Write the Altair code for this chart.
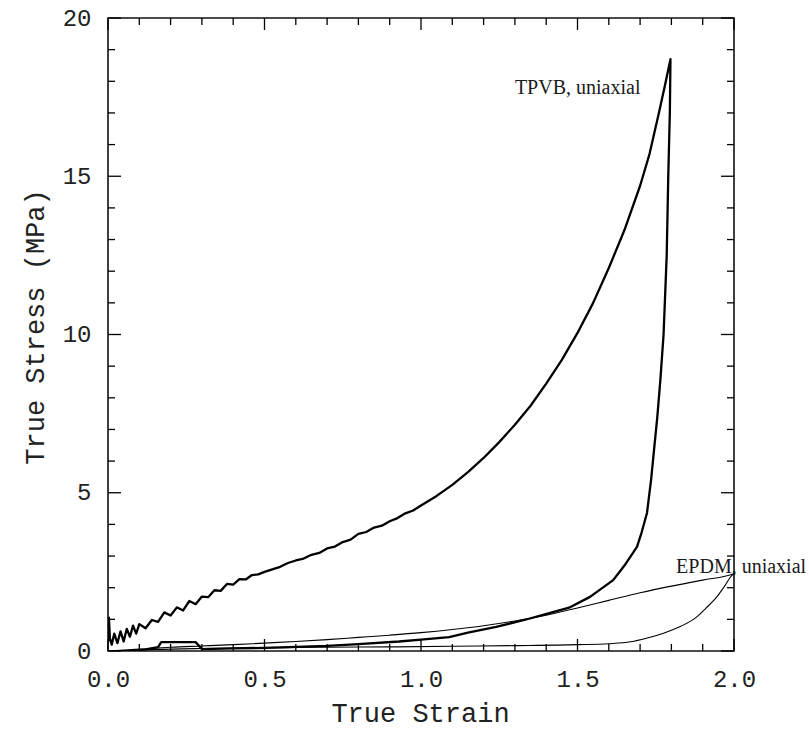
import altair as alt
import pandas as pd

# ---- data ----
tpvb_load_strain = [0.000, 0.003, 0.006, 0.012, 0.020, 0.030, 0.040, 0.050, 0.060, 0.070,
                    0.080, 0.090, 0.100, 0.120, 0.140, 0.160, 0.180, 0.200, 0.220, 0.240,
                    0.260, 0.280, 0.300, 0.320, 0.340, 0.360, 0.380, 0.400, 0.420, 0.440,
                    0.460, 0.480, 0.500, 0.525, 0.550, 0.575, 0.600, 0.625, 0.650, 0.675,
                    0.700, 0.725, 0.750, 0.775, 0.800, 0.825, 0.850, 0.875, 0.900, 0.925,
                    0.950, 0.975, 1.000, 1.050, 1.100, 1.150, 1.200, 1.250, 1.300, 1.350,
                    1.400, 1.450, 1.500, 1.550, 1.600, 1.650, 1.700, 1.730, 1.760, 1.780,
                    1.797]
tpvb_load_stress = [0.30, 1.05, 0.40, 0.20, 0.55, 0.25, 0.62, 0.30, 0.70, 0.45,
                    0.80, 0.55, 0.85, 0.72, 0.98, 0.92, 1.22, 1.12, 1.38, 1.28,
                    1.58, 1.48, 1.72, 1.70, 1.92, 1.90, 2.12, 2.10, 2.27, 2.26,
                    2.40, 2.42, 2.50, 2.58, 2.66, 2.78, 2.86, 2.92, 3.04, 3.10,
                    3.24, 3.30, 3.44, 3.52, 3.70, 3.76, 3.90, 3.96, 4.10, 4.20,
                    4.35, 4.44, 4.60, 4.90, 5.25, 5.65, 6.10, 6.60, 7.15, 7.75,
                    8.45, 9.20, 10.05, 11.00, 12.10, 13.30, 14.70, 15.70, 17.00, 17.90,
                    18.70]

tpvb_unload_strain = [1.797, 1.795, 1.790, 1.785, 1.775, 1.765, 1.755, 1.745, 1.735, 1.722,
                      1.705, 1.690, 1.650, 1.614, 1.540, 1.476, 1.410, 1.330, 1.240, 1.150,
                      1.090, 1.000, 0.930, 0.800, 0.700, 0.600, 0.500, 0.400, 0.300, 0.280,
                      0.170, 0.160, 0.120, 0.080]
tpvb_unload_stress = [18.70, 17.00, 15.00, 12.50, 10.00, 8.60, 7.40, 6.40, 5.40, 4.36,
                      3.75, 3.29, 2.70, 2.24, 1.71, 1.38, 1.20, 0.98, 0.76, 0.58,
                      0.44, 0.36, 0.30, 0.22, 0.16, 0.13, 0.10, 0.08, 0.06, 0.28,
                      0.28, 0.12, 0.05, 0.00]

epdm_load_strain = [0.00, 0.05, 0.10, 0.20, 0.30, 0.40, 0.50, 0.60, 0.70, 0.80, 0.90,
                    1.00, 1.10, 1.20, 1.30, 1.40, 1.50, 1.60, 1.70, 1.80, 1.90, 2.00]
epdm_load_stress = [0.00, 0.03, 0.06, 0.12, 0.16, 0.20, 0.25, 0.30, 0.36, 0.43, 0.50,
                    0.58, 0.68, 0.80, 0.95, 1.13, 1.36, 1.60, 1.84, 2.05, 2.24, 2.45]

epdm_unload_strain = [2.000, 1.970, 1.945, 1.910, 1.880, 1.830, 1.775, 1.720, 1.670, 1.600,
                      1.500, 1.300, 1.100, 0.900, 0.700, 0.500, 0.300, 0.150, 0.050, 0.000]
epdm_unload_stress = [2.45, 2.05, 1.71, 1.35, 1.07, 0.78, 0.56, 0.40, 0.29, 0.23,
                      0.20, 0.17, 0.15, 0.13, 0.12, 0.10, 0.08, 0.05, 0.01, 0.00]

labels_text = ["TPVB, uniaxial", "EPDM, uniaxial"]
labels_strain = [1.30, 1.815]
labels_stress = [17.6, 2.46]

x_major = [0.0, 0.5, 1.0, 1.5, 2.0]
x_minor = [0.1, 0.2, 0.3, 0.4, 0.6, 0.7, 0.8, 0.9, 1.1, 1.2, 1.3, 1.4, 1.6, 1.7, 1.8, 1.9]
y_major = [0, 5, 10, 15, 20]
y_minor = [1, 2, 3, 4, 6, 7, 8, 9, 11, 12, 13, 14, 16, 17, 18, 19]

# ---- build tables ----
def path(name, xs, ys, start):
    return pd.DataFrame({"series": name, "strain": xs, "stress": ys,
                         "i": [start + k for k in range(len(xs))]})

tpvb = pd.concat([
    path("TPVB", tpvb_load_strain, tpvb_load_stress, 0),
    path("TPVB", tpvb_unload_strain, tpvb_unload_stress, 1000),
])
epdm = pd.concat([
    path("EPDM", epdm_load_strain, epdm_load_stress, 0),
    path("EPDM", epdm_unload_strain, epdm_unload_stress, 1000),
])
labels = pd.DataFrame({"text": labels_text, "strain": labels_strain, "stress": labels_stress})

W, H = 626, 633
MONO = "Liberation Mono"

xscale = alt.Scale(domain=[0, 2], nice=False, zero=False)
yscale = alt.Scale(domain=[0, 20], nice=False, zero=False)

xaxis = alt.Axis(values=x_major, format=".1f", title="True Strain", grid=False, domain=False,
                 ticks=False, tickSize=0, labelPadding=16, labelFont=MONO, labelFontSize=24,
                 labelColor="#222", titleFont=MONO, titleFontSize=27, titleFontWeight="normal",
                 titleColor="#222", titleX=W / 2 - 1, titleY=62, titleBaseline="middle",
                 titleAlign="center", labelFlush=False)
yaxis = alt.Axis(values=y_major, format="d", title="True Stress (MPa)", grid=False, domain=False,
                 ticks=False, tickSize=0, labelPadding=17, labelFont=MONO, labelFontSize=24,
                 labelColor="#222", titleFont=MONO, titleFontSize=27, titleFontWeight="normal",
                 titleColor="#222", titleX=-73, titleY=H / 2 - 8, titleAngle=-90,
                 titleBaseline="middle", titleAlign="center", labelFlush=False)

base_x = alt.X("strain:Q", scale=xscale, axis=xaxis)
base_y = alt.Y("stress:Q", scale=yscale, axis=yaxis)

tpvb_line = alt.Chart(tpvb).mark_line(color="black", strokeWidth=2.3, clip=True,
                                      strokeJoin="round").encode(
    x=base_x, y=base_y, order="i:Q")
epdm_line = alt.Chart(epdm).mark_line(color="black", strokeWidth=1.1, clip=True,
                                      interpolate="monotone").encode(
    x="strain:Q", y="stress:Q", order="i:Q")

text = alt.Chart(labels).mark_text(font="Liberation Serif", fontSize=20, align="left",
                                   baseline="alphabetic", color="#1a1a1a").encode(
    x="strain:Q", y="stress:Q", text="text:N")

def xticks(vals, L):
    d = pd.DataFrame({"strain": vals})
    bot = alt.Chart(d).mark_rule(color="black", strokeWidth=1.3).encode(
        x="strain:Q", y=alt.value(H), y2=alt.value(H - L))
    top = alt.Chart(d).mark_rule(color="black", strokeWidth=1.3).encode(
        x="strain:Q", y=alt.value(0), y2=alt.value(L))
    return [bot, top]

def yticks(vals, L):
    d = pd.DataFrame({"stress": vals})
    left = alt.Chart(d).mark_rule(color="black", strokeWidth=1.3).encode(
        y="stress:Q", x=alt.value(0), x2=alt.value(L))
    right = alt.Chart(d).mark_rule(color="black", strokeWidth=1.3).encode(
        y="stress:Q", x=alt.value(W), x2=alt.value(W - L))
    return [left, right]

layers = [tpvb_line, epdm_line, text] + xticks(x_major, 12) + xticks(x_minor, 7) \
    + yticks(y_major, 13) + yticks(y_minor, 7)

chart = alt.layer(*layers).properties(
    width=W, height=H,
    autosize=alt.AutoSizeParams(type="none"),
    padding={"left": 108, "top": 18, "right": 75, "bottom": 79},
    background="white",
).configure_view(stroke="#111", strokeWidth=1.6)

chart.save("out.html", embed_options={"renderer": "svg", "actions": False})
